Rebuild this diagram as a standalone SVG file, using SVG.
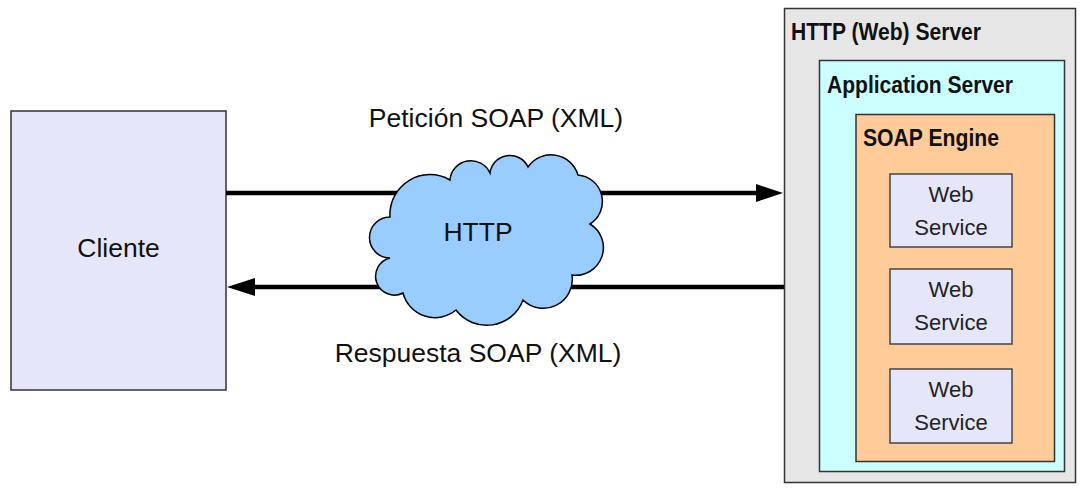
<svg xmlns="http://www.w3.org/2000/svg" width="1085" height="492" viewBox="0 0 1085 492">
<style>
  .lbl { font-family: "Liberation Sans", Arial, sans-serif; font-size: 26.5px; fill: #111; }
  .ws { font-family: "Liberation Sans", Arial, sans-serif; font-size: 22px; fill: #222; text-anchor: middle; }
  .ttl { font-family: "Liberation Sans", Arial, sans-serif; font-size: 23px; font-weight: bold; fill: #111; }
  .box { stroke: #333; stroke-width: 1.5; }
  .wsbox { fill: #e6e6fa; stroke: #444; stroke-width: 1.5; }
  .conn { stroke: #000; stroke-width: 4.5; fill: none; }
</style>
<rect width="1085" height="492" fill="#fff"/>
<g id="cliente">
  <rect class="box" x="11" y="111" width="215" height="279" fill="#e6e6fa"/>
  <text class="lbl" x="118.5" y="257" text-anchor="middle">Cliente</text>
</g>
<g id="connectors">
  <line class="conn" x1="226" y1="193" x2="758" y2="193"/>
  <polygon points="756,184 783,193 756,202" fill="#000"/>
  <line class="conn" x1="253" y1="287" x2="784" y2="287"/>
  <polygon points="227,287 255,278 255,296" fill="#000"/>
</g>
<g id="cloud">
  <path d="M390,217 A40,40 0 0 1 450,180 A21,21 0 0 1 490,173 A20,20 0 0 1 528,167 A28,28 0 0 1 578,175 A26.6,26.6 0 0 1 590,224 A27.6,27.6 0 0 1 572,275 A29,29 0 0 1 523,300 A38.6,38.6 0 0 1 456,310 A33,33 0 0 1 403,293 A18.8,18.8 0 1 1 390,258 A20.5,20.5 0 1 1 390,217 Z" fill="#99ccff" stroke="#000" stroke-width="1.5"/>
  <text class="lbl" x="478" y="241" text-anchor="middle">HTTP</text>
</g>
<g id="label-peticion">
  <text class="lbl" x="496" y="127" text-anchor="middle">Petición SOAP (XML)</text>
</g>
<g id="label-respuesta">
  <text class="lbl" x="478" y="362" text-anchor="middle">Respuesta SOAP (XML)</text>
</g>
<g id="http-server">
  <rect class="box" x="784.5" y="8.5" width="291" height="474" fill="#e6e6e6"/>
  <text class="ttl" x="791" y="40" textLength="190" lengthAdjust="spacingAndGlyphs">HTTP (Web) Server</text>
</g>
<g id="app-server">
  <rect class="box" x="819.5" y="60.5" width="245" height="411" fill="#ccffff"/>
  <text class="ttl" x="827" y="93" textLength="186" lengthAdjust="spacingAndGlyphs">Application Server</text>
</g>
<g id="soap-engine">
  <rect class="box" x="856" y="114.5" width="198.5" height="347" fill="#ffcc99"/>
  <text class="ttl" x="863" y="146" textLength="136" lengthAdjust="spacingAndGlyphs">SOAP Engine</text>
</g>
<g id="ws1">
  <rect class="wsbox" x="890" y="174" width="122" height="73"/>
  <text class="ws" x="951" y="202">Web</text>
  <text class="ws" x="951" y="235">Service</text>
</g>
<g id="ws2">
  <rect class="wsbox" x="890" y="269" width="122" height="75"/>
  <text class="ws" x="951" y="297">Web</text>
  <text class="ws" x="951" y="330">Service</text>
</g>
<g id="ws3">
  <rect class="wsbox" x="890" y="369" width="122" height="74"/>
  <text class="ws" x="951" y="397">Web</text>
  <text class="ws" x="951" y="430">Service</text>
</g>
</svg>
